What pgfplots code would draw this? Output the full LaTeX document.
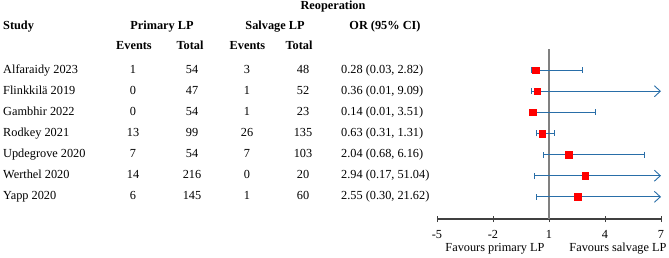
\documentclass[border=0pt]{standalone}
\usepackage{fontspec}
\setmainfont{Liberation Serif}
\usepackage{pgfplots}
\pgfplotsset{compat=1.18}
\usetikzlibrary{arrows.meta}
\definecolor{ciblue}{RGB}{41,110,168}
\definecolor{refgray}{RGB}{128,128,128}
\newcommand{\row}[7]{%
  \node[anchor=mid west] at (3,#1) {#2};
  \node[anchor=mid] at (133,#1) {#3};
  \node[anchor=mid] at (192,#1) {#4};
  \node[anchor=mid] at (247,#1) {#5};
  \node[anchor=mid] at (303,#1) {#6};
  \node[anchor=mid west] at (341,#1) {#7};
}
\begin{document}
\fontsize{12.35}{14}\selectfont
\begin{tikzpicture}[x=1bp,y=1bp,inner sep=0pt]
\useasboundingbox (0,0) rectangle (669,257);
\begin{axis}[
  at={(437bp,38bp)}, anchor=south west,
  scale only axis, width=224bp, height=170bp,
  xmin=-5, xmax=7, ymin=-0.05, ymax=8,
  axis x line=bottom, axis y line=none,
  x axis line style={-, draw=black!75, line width=1.2bp},
  xtick={-5,-2,1,4,7},
  tick align=center, major tick length=6bp,
  tick style={black!75, line width=1bp},
  xticklabel style={font=\fontsize{12.35}{14}\selectfont, inner sep=0pt, yshift=-8bp},
  /pgf/number format/assume math mode=true,
  clip=false,
]
\addplot[refgray, line width=2bp] coordinates {(1,-0.05) (1,8)};
\addplot[ciblue, line width=0.9bp, {Bar[width=6bp]}-{Bar[width=6bp]}] coordinates {(0.03,7) (2.82,7)};
\addplot[ciblue, line width=0.9bp, {Bar[width=6bp]}-{Straight Barb[length=6bp,width=11bp]}] coordinates {(0.01,6) (7,6)};
\addplot[ciblue, line width=0.9bp, {Bar[width=6bp]}-{Bar[width=6bp]}] coordinates {(0.01,5) (3.51,5)};
\addplot[ciblue, line width=0.9bp, {Bar[width=6bp]}-{Bar[width=6bp]}] coordinates {(0.31,4) (1.31,4)};
\addplot[ciblue, line width=0.9bp, {Bar[width=6bp]}-{Bar[width=6bp]}] coordinates {(0.68,3) (6.16,3)};
\addplot[ciblue, line width=0.9bp, {Bar[width=6bp]}-{Straight Barb[length=6bp,width=11bp]}] coordinates {(0.17,2) (7,2)};
\addplot[ciblue, line width=0.9bp, {Bar[width=6bp]}-{Straight Barb[length=6bp,width=11bp]}] coordinates {(0.30,1) (7,1)};
\addplot[only marks, mark=square*, mark size=3.3bp, red, mark options={draw=red, fill=red}] coordinates {(0.28,7) (0.36,6) (0.14,5) (0.63,4) (2.04,3) (2.94,2) (2.55,1)};
\end{axis}
\begin{scope}[font=\bfseries]
\node[anchor=mid] at (333,250) {Reoperation};
\node[anchor=mid west] at (3,230) {Study};
\node[anchor=mid] at (162,230) {Primary LP};
\node[anchor=mid] at (275,230) {Salvage LP};
\node[anchor=mid] at (385,230) {OR (95\% CI)};
\node[anchor=mid] at (134,210) {Events};
\node[anchor=mid] at (190,210) {Total};
\node[anchor=mid] at (247.5,210) {Events};
\node[anchor=mid] at (299,210) {Total};
\end{scope}
\row{186.7}{Alfaraidy 2023}{1}{54}{3}{48}{0.28 (0.03, 2.82)}
\row{165.6}{Flinkkilä 2019}{0}{47}{1}{52}{0.36 (0.01, 9.09)}
\row{144.5}{Gambhir 2022}{0}{54}{1}{23}{0.14 (0.01, 3.51)}
\row{123.4}{Rodkey 2021}{13}{99}{26}{135}{0.63 (0.31, 1.31)}
\row{102.3}{Updegrove 2020}{7}{54}{7}{103}{2.04 (0.68, 6.16)}
\row{81.2}{Werthel 2020}{14}{216}{0}{20}{2.94 (0.17, 51.04)}
\row{60.1}{Yapp 2020}{6}{145}{1}{60}{2.55 (0.30, 21.62)}
\node[anchor=mid] at (495,8) {Favours primary LP};
\node[anchor=mid] at (618,8) {Favours salvage LP};
\end{tikzpicture}
\end{document}
